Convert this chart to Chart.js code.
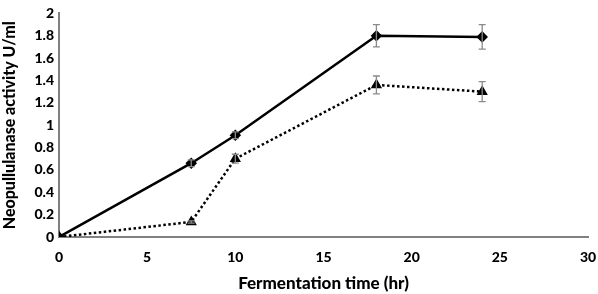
<!DOCTYPE html>
<html><head><meta charset="utf-8">
<script src="https://cdn.jsdelivr.net/npm/chart.js@4/dist/chart.umd.min.js"></script>
<style>html,body{margin:0;padding:0;background:#fff}canvas{display:block}</style>
</head><body>
<canvas id="c" width="598" height="294"></canvas>
<script>
const times = [0, 7.5, 10, 18, 24];
const diamondValues = [0, 0.66, 0.91, 1.80, 1.79];
const diamondErrors = [0, 0.03, 0.03, 0.10, 0.11];
const triangleValues = [0, 0.135, 0.70, 1.36, 1.30];
const triangleErrors = [0, 0.01, 0.04, 0.08, 0.09];
const xTitle = 'Fermentation time (hr)';
const yTitle = 'Neopullulanase activity U/ml';

const FONT = 'Lato, "Open Sans", sans-serif';
const errs = [diamondErrors, triangleErrors];

const errorBars = {
  id: 'errorBars',
  afterDatasetsDraw(chart) {
    const ctx = chart.ctx, xs = chart.scales.x, ys = chart.scales.y;
    ctx.save();
    ctx.strokeStyle = '#8a8a8a';
    ctx.lineWidth = 1.3;
    chart.data.datasets.forEach((ds, i) => {
      ds.data.forEach((p, j) => {
        const e = errs[i][j];
        if (!e) return;
        const x = xs.getPixelForValue(p.x);
        const y1 = ys.getPixelForValue(p.y + e);
        const y2 = ys.getPixelForValue(p.y - e);
        ctx.beginPath();
        ctx.moveTo(x, y1); ctx.lineTo(x, y2);
        ctx.moveTo(x - 3.5, y1); ctx.lineTo(x + 3.5, y1);
        ctx.moveTo(x - 3.5, y2); ctx.lineTo(x + 3.5, y2);
        ctx.stroke();
      });
    });
    ctx.restore();
  }
};

new Chart(document.getElementById('c'), {
  type: 'scatter',
  data: {
    datasets: [
      {
        data: times.map((t, i) => ({x: t, y: diamondValues[i]})),
        showLine: true,
        borderColor: '#000',
        backgroundColor: '#000',
        borderWidth: 2.5,
        pointStyle: 'rectRot',
        pointRadius: 4,
        pointHoverRadius: 4,
        order: 1
      },
      {
        data: times.map((t, i) => ({x: t, y: triangleValues[i]})),
        showLine: true,
        borderColor: '#000',
        backgroundColor: '#000',
        borderWidth: 2.5,
        borderDash: [2.5, 2.5],
        pointStyle: 'triangle',
        pointRadius: 4,
        pointHoverRadius: 4,
        order: 2
      }
    ]
  },
  options: {
    responsive: false,
    animation: false,
    events: [],
    layout: {padding: {left: 0, right: 0, top: 11, bottom: 0}},
    plugins: {legend: {display: false}, tooltip: {enabled: false}},
    scales: {
      x: {
        type: 'linear', min: 0, max: 30,
        ticks: {stepSize: 5, color: '#000', font: {family: FONT, size: 14, weight: '900'}, padding: 12},
        grid: {display: false, drawTicks: false},
        border: {color: '#808080', width: 2},
        title: {display: true, text: xTitle, color: '#000', font: {family: FONT, size: 17, weight: '900'}, padding: {top: 2, bottom: 0}},
        afterFit(s) { s.height = 57; s.paddingRight = 10; }
      },
      y: {
        type: 'linear', min: 0, max: 2,
        ticks: {stepSize: 0.2, color: '#000', font: {family: FONT, size: 14, weight: '900'}, padding: 5,
          callback: v => String(Math.round(v * 10) / 10)},
        grid: {display: false, drawTicks: false},
        border: {color: '#808080', width: 2},
        title: {display: true, text: yTitle, color: '#000', font: {family: FONT, size: 16, weight: '900'}, padding: {top: 0, bottom: 4}},
        afterFit(s) { s.width = 59; }
      }
    }
  },
  plugins: [errorBars]
});
</script>
</body></html>
